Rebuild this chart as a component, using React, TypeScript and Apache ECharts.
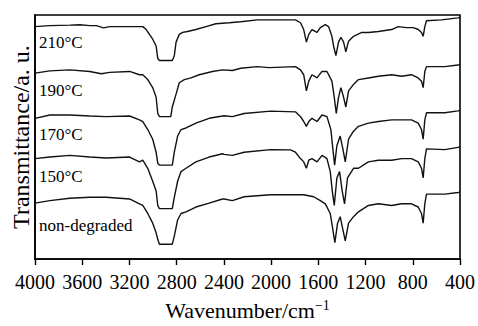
import React, { useEffect, useRef } from "react";
import * as echarts from "echarts";

const xTicks = [4000, 3600, 3200, 2800, 2400, 2000, 1600, 1200, 800, 400];
const seriesNames = ["210°C", "190°C", "170°C", "150°C", "non-degraded"];

const s210: [number, number][] = [
  [4000, 240], [3874, 241], [3705, 241.5], [3620, 242], [3536, 241], [3480, 241], [3420, 238.7], [3368, 240], [3199, 240], [3115, 240],
  [3087, 240], [3058, 237], [3003, 227], [2974, 220], [2960, 207], [2946, 205], [2896, 205], [2837, 205], [2820, 210], [2805, 224],
  [2778, 232], [2750, 234], [2708, 235], [2637, 237], [2552, 240], [2468, 243], [2356, 244], [2257, 245], [2117, 247], [1808, 247],
  [1794, 247], [1751, 244], [1724, 237], [1701, 224], [1681, 232], [1654, 237], [1611, 234], [1583, 239], [1541, 242], [1513, 240],
  [1485, 230], [1471, 220], [1451, 210], [1429, 224], [1409, 229], [1386, 224], [1367, 214], [1344, 225], [1302, 230], [1232, 234],
  [1176, 234], [1091, 235], [979, 237], [923, 240], [853, 239], [796, 239], [754, 237], [726, 234], [712, 230], [698, 240],
  [684, 246], [558, 247], [417, 249], [400, 249.5],
];

const s190: [number, number][] = [
  [4000, 192], [3874, 194.3], [3705, 195.3], [3536, 193.7], [3438, 191.3], [3368, 192.7], [3199, 193.7], [3115, 190.3], [3087, 190.3], [3045, 185.3],
  [3003, 177], [2974, 167], [2960, 150.3], [2946, 147], [2850, 147], [2837, 157], [2805, 170.3], [2778, 182], [2735, 185.3], [2679, 187],
  [2609, 190.3], [2497, 193.7], [2412, 195.3], [2328, 194.7], [2257, 197], [2117, 198.7], [2019, 197.7], [1794, 198.7], [1751, 195.3], [1724, 190.3],
  [1701, 173.7], [1681, 183.7], [1654, 190.3], [1611, 187], [1569, 193.7], [1527, 193.7], [1485, 183.7], [1465, 167], [1448, 150.3], [1429, 167],
  [1409, 177], [1386, 167], [1367, 157], [1344, 173.7], [1302, 180.3], [1260, 185.3], [1176, 187], [1091, 188.7], [979, 190.3], [895, 188.7],
  [811, 190.3], [754, 187], [726, 183.7], [712, 177], [698, 193.7], [684, 198.7], [529, 198.7], [417, 200.3], [400, 201],
];

const s170: [number, number][] = [
  [4000, 145.3], [3874, 148.7], [3705, 148.7], [3536, 147.7], [3396, 147], [3199, 147.7], [3115, 143.7], [3087, 142], [3045, 133.7], [3003, 123.7],
  [2974, 110.3], [2960, 98.7], [2946, 97], [2837, 97], [2820, 110.3], [2792, 127], [2763, 133.7], [2721, 135.3], [2637, 140.3], [2525, 145.3],
  [2412, 147.7], [2398, 148], [2328, 147], [2229, 150.3], [2004, 152.7], [1794, 152], [1751, 147], [1724, 142], [1701, 137], [1681, 142],
  [1654, 145.3], [1611, 142], [1569, 148.7], [1527, 147], [1494, 133.7], [1477, 113.7], [1462, 97], [1443, 117], [1415, 127], [1392, 113.7],
  [1372, 100.3], [1344, 123.7], [1302, 132], [1260, 137], [1176, 140.3], [1091, 142], [979, 143.7], [895, 143.7], [811, 143.7], [754, 140.3],
  [726, 133.7], [712, 123.7], [698, 143.7], [684, 151], [529, 151], [417, 153], [400, 153.5],
];

const s150: [number, number][] = [
  [4000, 103.7], [3874, 105.3], [3705, 107], [3536, 105.3], [3396, 104.3], [3199, 105.3], [3115, 100.3], [3087, 102], [3045, 93.7], [3003, 80.3],
  [2974, 70.3], [2960, 55.3], [2946, 52], [2837, 52], [2820, 63.7], [2792, 80.3], [2763, 90.3], [2721, 93.7], [2637, 100.3], [2525, 105.3],
  [2412, 108.7], [2398, 108], [2328, 107], [2229, 110.3], [2004, 113], [1836, 112.7], [1794, 110.3], [1751, 103.7], [1724, 100.3], [1701, 93.7],
  [1681, 102], [1654, 103.7], [1611, 100.3], [1569, 107], [1527, 103.7], [1499, 90.3], [1482, 70.3], [1465, 55.3], [1443, 83.7], [1420, 90.3],
  [1398, 70.3], [1378, 57], [1353, 83.7], [1302, 93.7], [1260, 93.7], [1176, 100.3], [1091, 102], [979, 102], [895, 103.7], [811, 103.7],
  [754, 100.3], [726, 93.7], [712, 83.7], [698, 103.7], [684, 113.7], [529, 113], [417, 115.3], [400, 116],
];

const sNon: [number, number][] = [
  [4000, 57.7], [3874, 60.3], [3705, 62.7], [3536, 63.7], [3396, 63.7], [3199, 62], [3115, 57], [3087, 55.3], [3045, 47], [3003, 37],
  [2974, 27], [2960, 20.3], [2946, 15.3], [2837, 15.3], [2820, 23.7], [2792, 40.3], [2763, 47], [2721, 48.7], [2637, 53.7], [2525, 57.7],
  [2412, 62], [2398, 62], [2328, 60.3], [2229, 64.3], [2004, 66.3], [1794, 66.3], [1724, 66.3], [1639, 64.3], [1583, 60.3], [1541, 57],
  [1499, 47], [1477, 30.3], [1460, 17], [1437, 37], [1415, 43.7], [1392, 30.3], [1372, 18.7], [1344, 37], [1302, 43.7], [1260, 48.7],
  [1176, 55.3], [1091, 57], [979, 55.3], [895, 57], [811, 57], [754, 53.7], [726, 47], [712, 37], [698, 57], [684, 67],
  [529, 67], [417, 68.7], [400, 69],
];

const allSeries = [s210, s190, s170, s150, sNon];
const labelY = [42.5, 90.5, 134, 176, 225];

export default function App() {
  const ref = useRef<HTMLDivElement>(null);
  useEffect(() => {
    if (!ref.current) return;
    const chart = echarts.init(ref.current, null, { renderer: "svg" });
    const font = "'Liberation Serif', 'Times New Roman', serif";
    chart.setOption({
      animation: false,
      backgroundColor: "#fff",
      grid: {
        left: 35,
        right: 16,
        top: 15,
        bottom: 59,
        show: true,
        borderColor: "#000",
        borderWidth: 1.6,
        backgroundColor: "transparent",
      },
      xAxis: {
        type: "value",
        inverse: true,
        min: 400,
        max: 4000,
        interval: 400,
        name: "Wavenumber/cm{sup|−1}",
        nameLocation: "middle",
        nameGap: 39,
        nameTextStyle: {
          fontFamily: font,
          fontSize: 22,
          color: "#000",
          rich: { sup: { fontFamily: font, fontSize: 14, color: "#000", verticalAlign: "top", padding: [0, 0, 10, 0] } },
        },
        axisLine: { show: true, lineStyle: { color: "#000", width: 1.6 } },
        axisTick: { show: true, inside: false, length: 6, lineStyle: { color: "#000", width: 1.4 } },
        axisLabel: {
          fontFamily: font,
          fontSize: 20,
          color: "#000",
          margin: 13,
          formatter: (v: number) => (xTicks.includes(v) ? String(v) : ""),
        },
        splitLine: { show: false },
      },
      yAxis: {
        type: "value",
        min: 0,
        max: 252,
        name: "Transmittance/a. u.",
        nameLocation: "middle",
        nameGap: 2,
        nameTextStyle: { fontFamily: font, fontSize: 24, color: "#000" },
        axisLine: { show: true, lineStyle: { color: "#000", width: 1.6 } },
        axisTick: { show: false },
        axisLabel: { show: false },
        splitLine: { show: false },
      },
      graphic: seriesNames.map((n, i) => ({
        type: "text",
        x: 39,
        y: labelY[i],
        style: {
          text: n,
          font: `17px ${font}`,
          fill: "#000",
          textVerticalAlign: "middle",
        },
      })),
      series: allSeries.map((d, i) => ({
        name: seriesNames[i],
        type: "line",
        data: d,
        showSymbol: false,
        symbol: "none",
        lineStyle: { color: "#111", width: 1.4 },
        silent: true,
      })),
    });
    return () => chart.dispose();
  }, []);
  return (
    <div
      ref={ref}
      style={{ position: "absolute", left: 0, top: 0, width: 478, height: 326, overflow: "visible" }}
    />
  );
}
